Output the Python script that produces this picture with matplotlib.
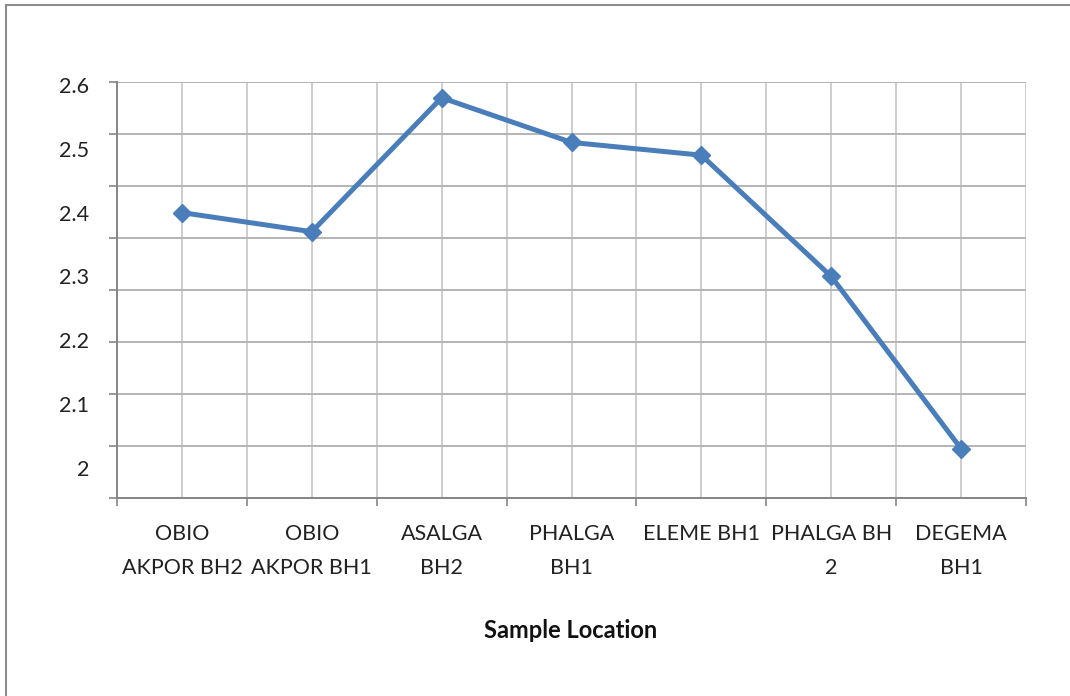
import numpy as np
import matplotlib
matplotlib.use("Agg")
import matplotlib.pyplot as plt
from matplotlib.lines import Line2D

# ---- data ----
locations = ["OBIO\nAKPOR BH2", "OBIO\nAKPOR BH1", "ASALGA\nBH2", "PHALGA\nBH1",
             "ELEME BH1", "PHALGA BH\n2", "DEGEMA\nBH1"]
values = [2.40, 2.37, 2.58, 2.51, 2.49, 2.30, 2.03]
ytick_values = [2.0, 2.1, 2.2, 2.3, 2.4, 2.5, 2.6]
ytick_labels = ["2", "2.1", "2.2", "2.3", "2.4", "2.5", "2.6"]
xlabel = "Sample Location"

plt.rcParams['font.family'] = ['Lato', 'DejaVu Sans']

W, H = 1070, 696
fig = plt.figure(figsize=(W / 100, H / 100), dpi=100)
fig.patch.set_facecolor("white")

L, R, T, B = 117, 1026, 82, 498
ax = fig.add_axes([L / W, 1 - B / H, (R - L) / W, (B - T) / H])

x = np.arange(len(locations))
ax.plot(x, values, color="#4A7EBB", lw=3.6, marker="D", ms=9,
        mec="#4A7EBB", mfc="#4A7EBB", zorder=5, solid_joinstyle="round")

# y scale: labels spaced 0.1 per ~638 px-units as in the reference
ymax = 2.6 + 3 / 638
ymin = 2.6 - 413 / 638
ax.set_ylim(ymin, ymax)
ax.set_xlim(-0.5, len(locations) - 0.5)

# horizontal gridlines / tick marks (9 evenly spaced lines)
grid_y = np.linspace(ymin, ymax, 9)
ax.set_yticks(grid_y)
ax.set_yticklabels([])
ax.set_yticks(ytick_values, minor=True)
ax.set_yticklabels(ytick_labels, minor=True)
ax.tick_params(axis="y", which="major", direction="out", length=6,
               color="#868686", width=1.2)
ax.tick_params(axis="y", which="minor", length=0, pad=20,
               labelsize=15.5, labelcolor="#222222")

# x: boundary ticks (major) and category label ticks (minor)
ax.set_xticks(np.arange(len(locations) + 1) - 0.5)
ax.set_xticklabels([])
ax.set_xticks(x, minor=True)
ax.set_xticklabels(locations, minor=True, linespacing=1.85)
ax.tick_params(axis="x", which="major", direction="out", length=6,
               color="#868686", width=1.2)
ax.tick_params(axis="x", which="minor", length=0, pad=19,
               labelsize=15.5, labelcolor="#222222")

ax.grid(True, axis="y", which="major", color="#B4B4B4", lw=1.4)
ax.grid(True, axis="x", which="both", color="#CDCDCD", lw=1.4)
ax.set_axisbelow(True)

for s in ["top", "right"]:
    ax.spines[s].set_visible(False)
for s in ["left", "bottom"]:
    ax.spines[s].set_color("#868686")
    ax.spines[s].set_linewidth(1.4)

fig.text(571 / W, 1 - 630 / H, xlabel, ha="center", va="center",
         fontsize=17, fontweight="bold", color="#111111")

# outer chart border (left and top visible)
fig.add_artist(Line2D([5.5 / W, 5.5 / W], [0, 1 - 5 / H], transform=fig.transFigure,
                      color="#8C8C8C", lw=1.5))
fig.add_artist(Line2D([5.5 / W, 1], [1 - 5 / H, 1 - 5 / H], transform=fig.transFigure,
                      color="#8C8C8C", lw=1.5))

fig.savefig("out.png", dpi=100, facecolor="white")
